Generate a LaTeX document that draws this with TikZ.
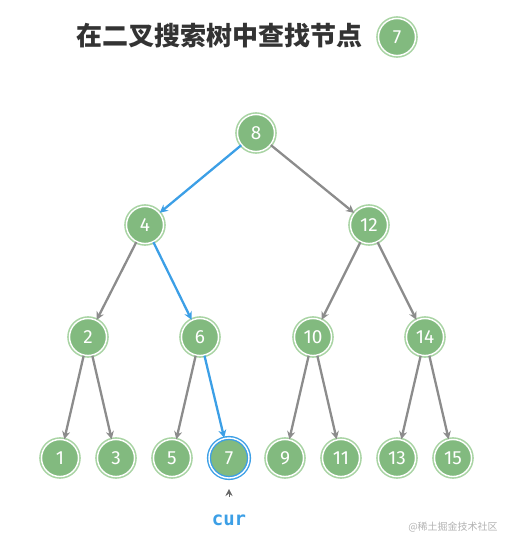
\documentclass[tikz,border=0pt]{standalone}
\usepackage{fontspec}
\setmainfont{Fira Sans}
\newfontfamily\cjkfont{Noto Sans CJK SC}
\newfontfamily\codefont{DejaVu Sans Mono}
\usetikzlibrary{arrows.meta}
\definecolor{nodegreen}{HTML}{82BA7F}
\definecolor{ringgreen}{HTML}{A9D4A4}
\definecolor{pathblue}{HTML}{3C9FE6}
\definecolor{edgegray}{HTML}{8C8C8C}
\definecolor{titlegray}{HTML}{333333}

\begin{document}
\begin{tikzpicture}[
  x=1pt, y=-1pt,
  vertex/.style={circle, fill=nodegreen, draw=white, line width=1.4pt,
                 minimum size=37pt, inner sep=0pt, text=white, font=\fontsize{19}{19}\selectfont,
                 preaction={draw=ringgreen, line width=4.6pt}},
  found/.style={circle, fill=nodegreen, draw=pathblue, double=white, double distance=1.4pt,
                line width=1.4pt, minimum size=40pt, inner sep=0pt, text=white,
                font=\fontsize{19}{19}\selectfont},
  edge/.style={-{Stealth[length=8pt,width=8pt]}, draw=edgegray, line width=2.3pt},
  hit/.style={edge, draw=pathblue}
]
\useasboundingbox (0,0) rectangle (510,542);
% title
\node[font=\cjkfont\bfseries\fontsize{26}{26}\selectfont, text=titlegray] (title) at (220,36) {在二叉搜索树中查找节点};
\node[vertex] (target) at (397,37) {7};
% tree
\node[vertex] (n8) at (256,133) {8};
\node[vertex] (n4) at (145,225) {4};
\node[vertex] (n12) at (369,225) {12};
\node[vertex] (n2) at (88,337) {2};
\node[vertex] (n6) at (200,337) {6};
\node[vertex] (n10) at (313,337) {10};
\node[vertex] (n14) at (425,337) {14};
\node[vertex] (n1) at (60,458) {1};
\node[vertex] (n3) at (116,458) {3};
\node[vertex] (n5) at (172,458) {5};
\node[found] (n7) at (229,458) {7};
\node[vertex] (n9) at (285,458) {9};
\node[vertex] (n11) at (341,458) {11};
\node[vertex] (n13) at (397,458) {13};
\node[vertex] (n15) at (453,458) {15};
% edges
\draw[hit] (n8) -- (n4);
\draw[edge] (n8) -- (n12);
\draw[edge] (n4) -- (n2);
\draw[hit] (n4) -- (n6);
\draw[edge] (n12) -- (n10);
\draw[edge] (n12) -- (n14);
\draw[edge] (n2) -- (n1);
\draw[edge] (n2) -- (n3);
\draw[edge] (n6) -- (n5);
\draw[hit] (n6) -- (n7);
\draw[edge] (n10) -- (n9);
\draw[edge] (n10) -- (n11);
\draw[edge] (n14) -- (n13);
\draw[edge] (n14) -- (n15);
% pointer
\node[font=\codefont\bfseries\fontsize{19}{19}\selectfont, text=pathblue] (cur) at (229,520) {cur};
\coordinate (caretfoot) at (229,497);
\coordinate (carettip) at (229,489);
\draw[-{Stealth[length=7pt,width=7pt,inset=2.5pt]}, draw=black!60, line width=0.4pt] (caretfoot) -- (carettip);
% watermark
\node[font=\cjkfont\fontsize{10}{10}\selectfont, text=black!30] (mark) at (453,527) {@稀土掘金技术社区};
\end{tikzpicture}
\end{document}
